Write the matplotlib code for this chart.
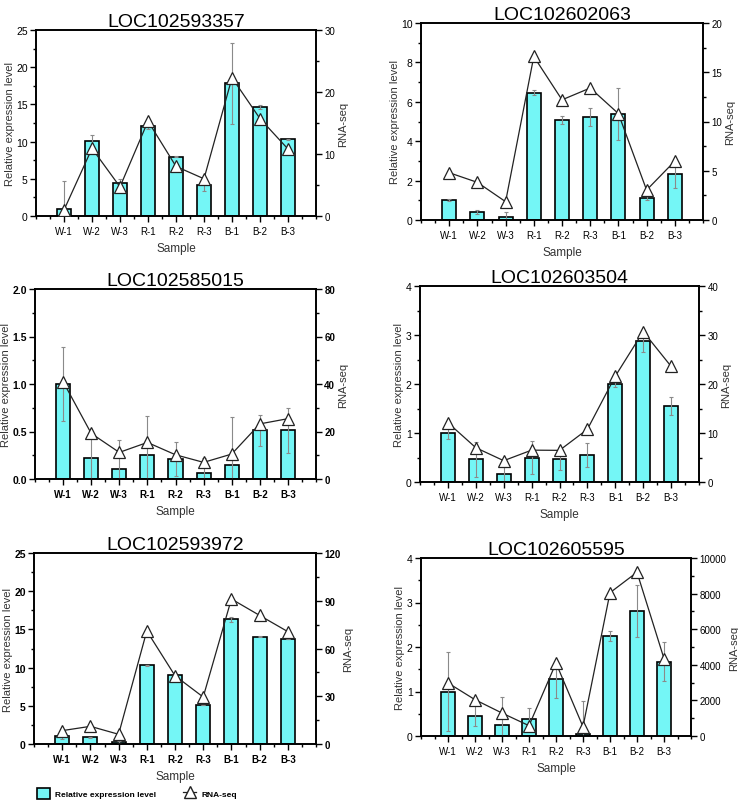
import numpy as np
import matplotlib
matplotlib.use("Agg")
import matplotlib.pyplot as plt
from matplotlib.patches import Patch
from matplotlib.lines import Line2D
from matplotlib.ticker import MultipleLocator, FormatStrFormatter

plt.rcParams['font.family'] = ['Liberation Sans', 'DejaVu Sans']

samples = ["W-1", "W-2", "W-3", "R-1", "R-2", "R-3", "B-1", "B-2", "B-3"]

# LOC102593357
rel_1 = [1.0, 10.14, 4.4, 12.16, 7.99, 4.22, 17.86, 14.59, 10.32]
err_1 = [3.7, 0.77, 0.63, 0.4, 0.1, 0.8, 5.43, 0.27, 0.05]
rna_1 = [0.97, 10.9, 4.7, 15.3, 8.0, 6.0, 22.3, 15.7, 10.8]

# LOC102602063
rel_2 = [1.01, 0.4, 0.13, 6.47, 5.07, 5.22, 5.37, 1.13, 2.33]
err_2 = [0.04, 0.1, 0.3, 0.12, 0.22, 0.44, 1.33, 0.1, 0.7]
rna_2 = [4.8, 3.82, 1.86, 16.6, 12.2, 13.4, 10.8, 3.04, 5.98]

# LOC102585015
rel_3 = [1.0, 0.221, 0.105, 0.249, 0.211, 0.06, 0.147, 0.512, 0.512]
err_3 = [0.39, 0.23, 0.31, 0.41, 0.18, 0.16, 0.51, 0.16, 0.24]
rna_3 = [41.0, 19.2, 11.2, 15.4, 10.2, 7.0, 10.5, 23.2, 25.4]

# LOC102603504
rel_4 = [1.0, 0.46, 0.156, 0.5, 0.476, 0.55, 2.01, 2.88, 1.55]
err_4 = [0.13, 0.36, 0.155, 0.33, 0.23, 0.25, 0.08, 0.22, 0.19]
rna_4 = [12.1, 7.0, 4.35, 6.5, 6.46, 10.75, 21.6, 30.7, 23.6]

# LOC102593972
rel_5 = [1.0, 0.87, 0.3, 10.3, 9.07, 5.06, 16.3, 14.05, 13.74]
err_5 = [0.4, 0.1, 0.15, 0.1, 0.1, 0.0, 0.35, 0.1, 0.0]
rna_5 = [8.4, 11.1, 6.1, 71.0, 42.9, 29.5, 91.1, 80.8, 70.6]

# LOC102605595
rel_6 = [1.0, 0.46, 0.25, 0.38, 1.27, 0.05, 2.25, 2.81, 1.67]
err_6 = [0.88, 0.23, 0.63, 0.24, 0.42, 0.73, 0.11, 0.58, 0.44]
rna_6 = [2980, 2040, 1290, 580, 4100, 520, 8050, 9200, 4350]

bar_color = "#74F6F6"

fig = plt.figure(figsize=(7.38, 8.04), dpi=100)
W, H = 738, 804


def panel(box, title, rel, err, rna, lmax, lstep, rmax, rstep, bold=False):
    l, r, t, b = box
    ax = fig.add_axes([l / W, 1 - b / H, (r - l) / W, (b - t) / H])
    x = np.arange(1, 10)
    ax.bar(x, rel, width=0.5, color=bar_color, edgecolor="black", linewidth=1.2, zorder=2)
    ax.errorbar(x, rel, yerr=err, fmt="none", ecolor="#8a8a8a", elinewidth=0.8,
                capsize=1.5, capthick=0.8, zorder=3)
    ax.set_xlim(0, 10)
    ax.set_ylim(0, lmax)
    ax.set_xticks(x)
    ax.set_xticklabels(samples, fontsize=7, fontweight="bold" if bold else "normal")
    ax.xaxis.set_minor_locator(MultipleLocator(0.5))
    ax.yaxis.set_major_locator(MultipleLocator(lstep))
    ax.yaxis.set_minor_locator(MultipleLocator(lstep / 2))
    ax.tick_params(axis="y", labelsize=7.5, pad=2)
    if lstep < 1:
        ax.yaxis.set_major_formatter(FormatStrFormatter("%.1f"))
    if bold:
        for lab in ax.get_yticklabels():
            lab.set_fontweight("bold")
    ax.tick_params(which="both", direction="out", top=False, width=1)
    ax.tick_params(which="major", length=4)
    ax.tick_params(which="minor", length=2.5)
    for s in ax.spines.values():
        s.set_linewidth(1.2)
    ax.set_xlabel("Sample", fontsize=8.5, color="#333333", labelpad=4)
    ax.set_ylabel("Relative expression level", fontsize=8, color="#333333", labelpad=1)
    ax.set_title(title, fontsize=14, pad=3)

    ax2 = ax.twinx()
    ax2.plot(x, rna, color="#222222", linewidth=0.9, marker="^", markersize=8,
             markerfacecolor="white", markeredgecolor="#222222", markeredgewidth=0.9, zorder=4)
    ax2.set_ylim(0, rmax)
    ax2.yaxis.set_major_locator(MultipleLocator(rstep))
    ax2.yaxis.set_minor_locator(MultipleLocator(rstep / 2))
    ax2.tick_params(which="both", direction="out", width=1, labelsize=7, pad=2)
    ax2.tick_params(which="major", length=4)
    ax2.tick_params(which="minor", length=2.5)
    if bold:
        for lab in ax2.get_yticklabels():
            lab.set_fontweight("bold")
    ax2.set_ylabel("RNA-seq", fontsize=8, color="#333333", labelpad=2)
    for s in ax2.spines.values():
        s.set_linewidth(1.2)
    return ax


panel((36, 316, 31, 217), "LOC102593357", rel_1, err_1, rna_1, 25, 5, 30, 10)
panel((421, 703, 24, 221), "LOC102602063", rel_2, err_2, rna_2, 10, 2, 20, 5)
panel((35, 316, 290, 480), "LOC102585015", rel_3, err_3, rna_3, 2.0, 0.5, 80, 20, bold=True)
panel((420, 699, 287, 483), "LOC102603504", rel_4, err_4, rna_4, 4, 1, 40, 10)
panel((34, 316, 554, 745), "LOC102593972", rel_5, err_5, rna_5, 25, 5, 120, 30, bold=True)
panel((421, 691, 559, 737), "LOC102605595", rel_6, err_6, rna_6, 4, 1, 10000, 2000)

handles = [
    Patch(facecolor=bar_color, edgecolor="black", linewidth=1.2),
    Line2D([], [], color="#222222", linewidth=0.9, marker="^", markersize=8,
           markerfacecolor="white", markeredgecolor="#222222"),
]
fig.legend(handles, ["Relative expression level", "RNA-seq"], loc="lower left",
           bbox_to_anchor=(0.040, -0.004), ncol=2, frameon=False,
           prop={"size": 6, "weight": "bold"}, handlelength=1.6, handleheight=1.6,
           handletextpad=0.6, columnspacing=3.2)

fig.savefig("out.png", dpi=100)
